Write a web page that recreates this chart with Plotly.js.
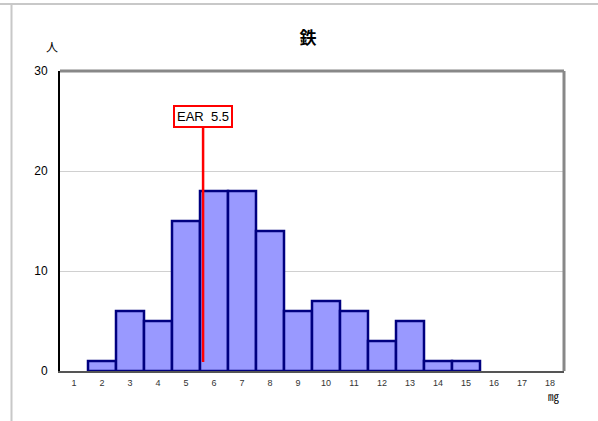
<!DOCTYPE html>
<html>
<head>
<meta charset="utf-8">
<script src="https://cdn.plot.ly/plotly-3.0.1.min.js"></script>
<style>html,body{margin:0;padding:0;background:#fff;}#chart{width:598px;height:421px;}</style>
</head>
<body>
<div id="chart"></div>
<script>
const categories = [1,2,3,4,5,6,7,8,9,10,11,12,13,14,15,16,17,18];
const counts = [0,1,6,5,15,18,18,14,6,7,6,3,5,1,1,0,0,0];
const yTicks = [0,10,20,30];
const titleText = '鉄';
const yUnit = '人';
const xUnit = '㎎';
const earLabel = 'EAR  5.5';
const earPos = 5.61;
const earLineY = [0.9, 25.5];

const W = 598, H = 421, L = 60, R = 34, T = 71, B = 50;
const pw = W - L - R, ph = H - T - B;
const px = v => (v - L) / pw;
const py = v => (H - B - v) / ph;

const traces = [
  {
    type: 'bar', x: categories, y: counts, width: 1,
    marker: {color: '#9999ff', line: {color: '#000080', width: counts.map(c => c > 0 ? 2.5 : 0)}},
    hoverinfo: 'skip'
  },
  {
    type: 'scatter', mode: 'lines', x: [earPos, earPos], y: earLineY,
    line: {color: '#ff0000', width: 2.5}, hoverinfo: 'skip'
  }
];

const layout = {
  width: W, height: H,
  margin: {l: L, r: R, t: T, b: B},
  paper_bgcolor: '#fff', plot_bgcolor: '#fff',
  showlegend: false,
  font: {family: 'Liberation Sans, Arial, sans-serif', color: '#000'},
  title: {text: titleText, x: px(308), xref: 'paper', xanchor: 'center', y: 1 - 38/H, yref: 'container', yanchor: 'middle',
          font: {family: 'Noto Sans CJK JP', size: 17, color: '#000', weight: 'bold'}},
  xaxis: {
    range: [0.5, 18.5], tickvals: categories, ticktext: categories.map(String),
    showgrid: false, zeroline: false, showline: true, linecolor: '#555', linewidth: 2,
    ticks: '', tickfont: {size: 9, color: '#333'}, ticklabelstandoff: 2, fixedrange: true
  },
  yaxis: {
    range: [0, 30], tickvals: yTicks, showgrid: true, gridcolor: '#d0d0d0', gridwidth: 1,
    zeroline: false, showline: true, linecolor: '#000', linewidth: 2,
    ticks: '', tickfont: {size: 12, color: '#000'}, ticklabelstandoff: 8, fixedrange: true
  },
  shapes: [
    {type: 'line', xref: 'paper', yref: 'paper', x0: 0, x1: 1, y0: 1, y1: 1, line: {color: '#888', width: 3}},
    {type: 'line', xref: 'paper', yref: 'paper', x0: 1, x1: 1, y0: 0, y1: 1, line: {color: '#888', width: 3}},
    {type: 'line', xref: 'paper', yref: 'paper', x0: px(0), x1: px(W), y0: py(4), y1: py(4), line: {color: '#c8c8c8', width: 2}},
    {type: 'line', xref: 'paper', yref: 'paper', x0: px(11.5), x1: px(11.5), y0: py(4), y1: py(H), line: {color: '#c8c8c8', width: 2}}
  ],
  annotations: [
    {text: earLabel, x: earPos, y: 25.5, xref: 'x', yref: 'y', showarrow: false,
     xanchor: 'center', yanchor: 'middle',
     font: {size: 13, color: '#000'}, bgcolor: '#fff', bordercolor: '#ff0000', borderwidth: 2, borderpad: 2},
    {text: yUnit, x: px(52), y: py(47), xref: 'paper', yref: 'paper', showarrow: false,
     xanchor: 'center', yanchor: 'middle',
     font: {family: 'Noto Sans CJK JP', size: 12, color: '#000'}},
    {text: xUnit, x: px(553), y: py(396), xref: 'paper', yref: 'paper', showarrow: false,
     xanchor: 'center', yanchor: 'middle',
     font: {family: 'Noto Sans CJK JP', size: 11, color: '#000'}}
  ]
};

Plotly.newPlot('chart', traces, layout, {displayModeBar: false, staticPlot: true});
</script>
</body>
</html>
